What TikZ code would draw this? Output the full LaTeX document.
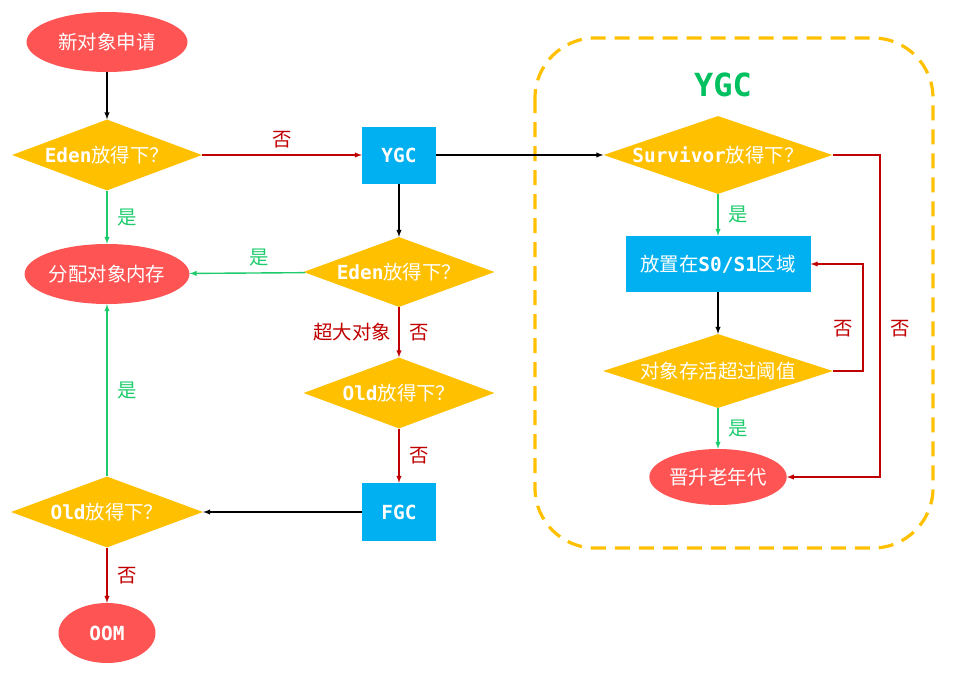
\documentclass[tikz,border=0pt]{standalone}
\usepackage{fontspec}
\usepackage{tikz}
\usetikzlibrary{arrows,shapes}
\newfontfamily\cjk{Noto Sans CJK SC}
\newfontfamily\mono{DejaVu Sans Mono}
\newcommand{\code}[1]{{\mono\bfseries #1}}

\definecolor{ovalred}{HTML}{FF5454}
\definecolor{condgold}{HTML}{FFC000}
\definecolor{stepblue}{HTML}{00B0F0}
\definecolor{yesgreen}{HTML}{1DCB6C}
\definecolor{nored}{HTML}{C00000}
\definecolor{titlegreen}{HTML}{00C060}

\tikzset{
  oval/.style={ellipse,fill=ovalred,text=white,inner sep=0pt},
  cond/.style={diamond,fill=condgold,text=white,inner sep=0pt},
  stepbox/.style={rectangle,fill=stepblue,text=white,inner sep=0pt},
  go/.style={->,line width=1.4pt,black},
  yes/.style={->,line width=1.4pt,yesgreen},
  no/.style={->,line width=1.4pt,nored},
  lbl/.style={font=\cjk\fontsize{19.5}{22}\selectfont}
}

\begin{document}
\begin{tikzpicture}[>=latex,every node/.style={font=\cjk\fontsize{19.5}{23}\selectfont}]
\useasboundingbox (0bp,0bp) rectangle (956bp,-677bp);

% left column
\node (new) at (107bp,-42bp)[oval,minimum width=161bp,minimum height=60bp] {新对象申请};
\node (eden1) at (107bp,-155bp)[cond,aspect=2.7,minimum width=190bp,minimum height=71bp] {\code{Eden}放得下？};
\node (alloc) at (107bp,-274bp)[oval,minimum width=161bp,minimum height=60bp] {分配对象内存};
\node (old1) at (107bp,-512bp)[cond,aspect=2.7,minimum width=192bp,minimum height=71bp] {\code{Old}放得下？};
\node (oom) at (107bp,-633bp)[oval,minimum width=97bp,minimum height=60bp] {\code{OOM}};

% middle column
\node (ygc) at (399bp,-155bp)[stepbox,minimum width=74bp,minimum height=57bp] {\code{YGC}};
\node (eden2) at (399bp,-272bp)[cond,aspect=2.7,minimum width=191bp,minimum height=70bp] {\code{Eden}放得下？};
\node (old2) at (399bp,-393bp)[cond,aspect=2.7,minimum width=191bp,minimum height=71bp] {\code{Old}放得下？};
\node (fgc) at (399bp,-512bp)[stepbox,minimum width=74bp,minimum height=58bp] {\code{FGC}};

% YGC group
\draw [condgold,line width=3.2bp,dash pattern=on 15bp off 9bp,rounded corners=60bp] (535bp,-38bp) rectangle (933bp,-548bp);
\node (title) at (723bp,-85bp)[titlegreen,font=\mono\bfseries\fontsize{32}{36}\selectfont] {YGC};
\node (surv) at (718bp,-155bp)[cond,aspect=2.9,minimum width=229bp,minimum height=78bp] {\code{Survivor}放得下？};
\node (s01) at (718bp,-264bp)[stepbox,minimum width=185bp,minimum height=56bp] {放置在\code{S0/S1}区域};
\node (thr) at (718bp,-371bp)[cond,aspect=3.1,minimum width=230bp,minimum height=74bp] {对象存活超过阈值};
\node (prom) at (718bp,-477bp)[oval,minimum width=136bp,minimum height=56bp] {晋升老年代};

\draw [go] (new) to (eden1);
\draw [no] (eden1) to node[above=3bp,lbl] {否} (ygc);
\draw [yes] (eden1) to node[right=6bp,lbl] {是} (alloc);
\draw [go] (ygc) to (eden2);
\draw [yes] (eden2) to node[pos=0.4,above=3bp,lbl] {是} (alloc);
\draw [no] (eden2) to node[left=4bp,lbl] {超大对象} node[right=6bp,lbl] {否} (old2);
\draw [no] (old2) to node[right=6bp,lbl] {否} (fgc);
\draw [go] (fgc) to (old1);
\draw [yes] (old1) to node[right=6bp,lbl] {是} (alloc);
\draw [no] (old1) to node[right=6bp,lbl] {否} (oom);
\draw [go] (ygc) to (surv);
\draw [yes] (surv) to node[right=6bp,lbl] {是} (s01);
\draw [go] (s01) to (thr);
\draw [yes] (thr) to node[right=6bp,lbl] {是} (prom);
\draw [no] (thr.east) -- (863bp,-371bp) |- node[pos=0.2,left=6bp,lbl] {否} (s01.east);
\draw [no] (surv.east) -- (880bp,-155bp) |- node[pos=0.27,right=6bp,lbl] {否} (prom.east);
\end{tikzpicture}
\end{document}
